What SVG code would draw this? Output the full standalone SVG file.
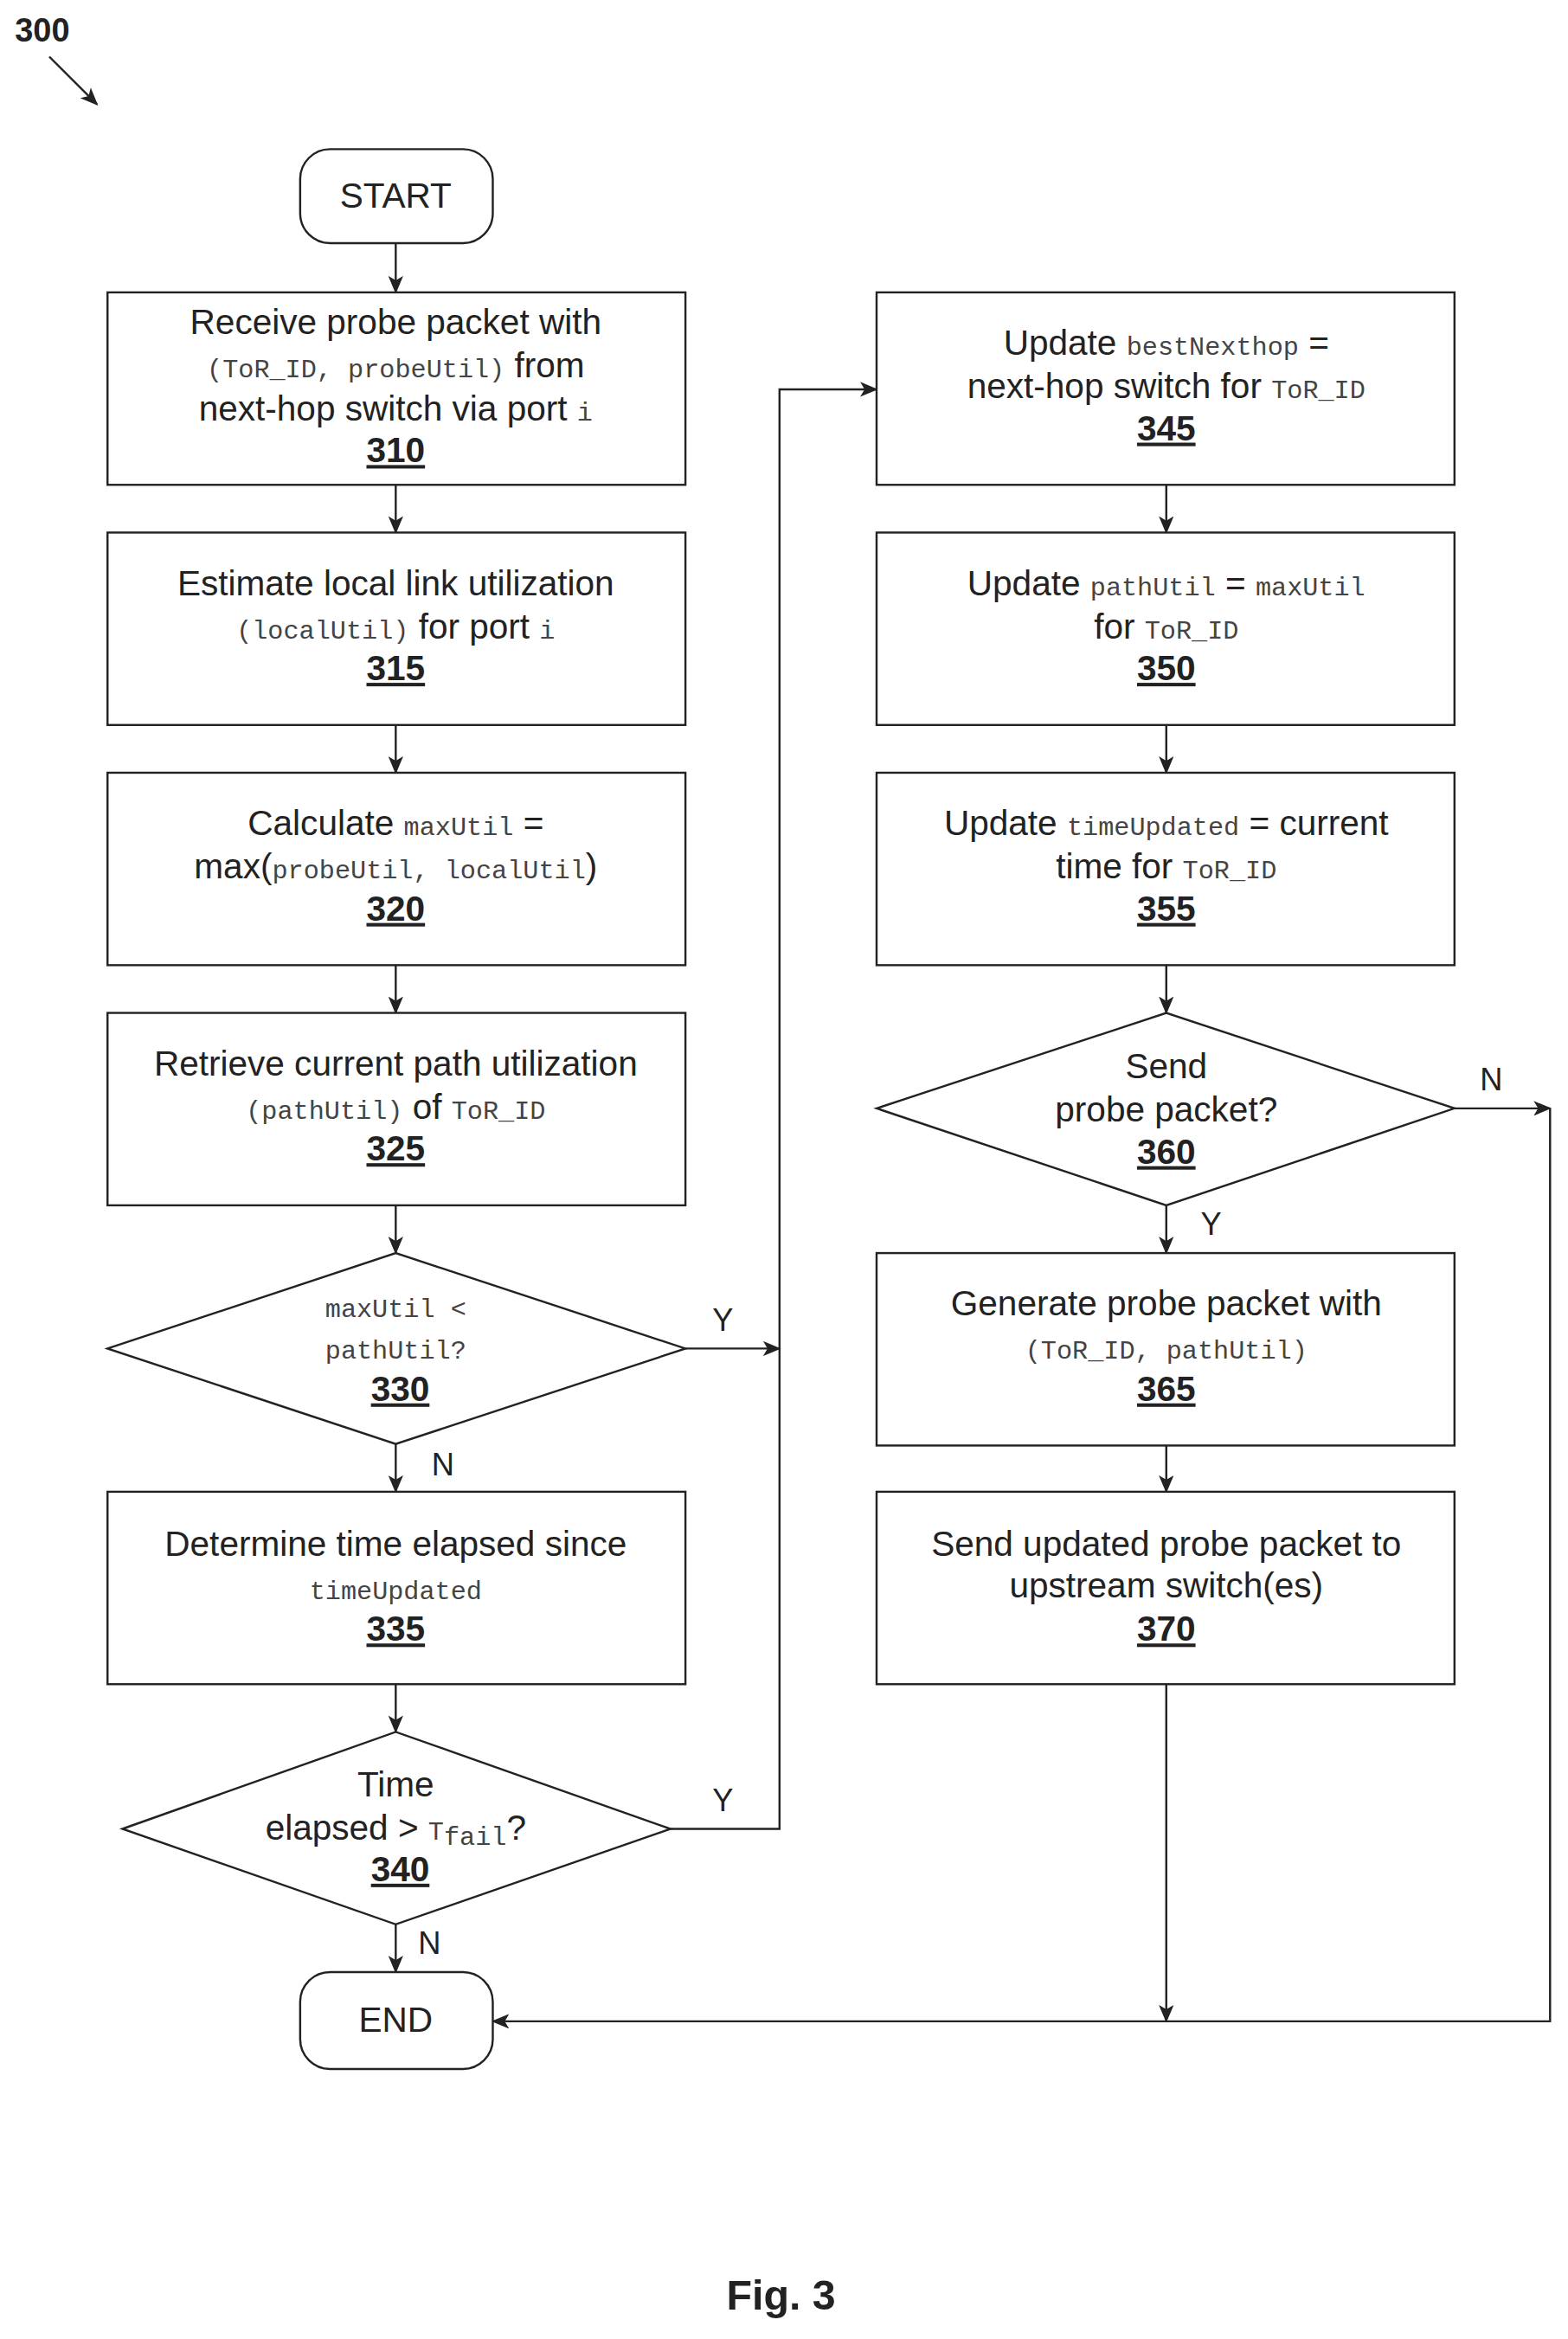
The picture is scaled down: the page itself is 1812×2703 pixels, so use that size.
<svg xmlns="http://www.w3.org/2000/svg" width="1812" height="2703" viewBox="0 0 1812 2703">
<style>
.b{fill:#fff;stroke:#222;stroke-width:1.4}
.t{font-family:"Liberation Sans",Arial,sans-serif;font-size:23.5px;fill:#222;text-anchor:middle}
.m{font-family:"Liberation Mono","Courier New",monospace;font-size:17.5px;fill:#444}
.n{font-weight:bold;text-decoration:underline}
.c{fill:none;stroke:#222;stroke-width:1.4}
.l{font-family:"Liberation Sans",Arial,sans-serif;font-size:21px;fill:#222}
</style>
<defs><marker id="a" markerWidth="12" markerHeight="10" refX="11" refY="5" orient="auto" markerUnits="userSpaceOnUse"><path d="M0,0L12,5L0,10L3,5z" fill="#222"/></marker></defs>
<rect width="1812" height="2703" fill="#fff"/>
<g transform="scale(1.7257,1.7239)">
<text x="10" y="28" font-family="Liberation Sans,Arial,sans-serif" font-weight="bold" font-size="22" fill="#222">300</text>
<line x1="33" y1="38" x2="65" y2="70" class="c" marker-end="url(#a)"/>
<g id="connectors">
<line x1="265" y1="163" x2="265" y2="196" class="c" marker-end="url(#a)"/>
<line x1="265" y1="325" x2="265" y2="357" class="c" marker-end="url(#a)"/>
<line x1="265" y1="486" x2="265" y2="518" class="c" marker-end="url(#a)"/>
<line x1="265" y1="647" x2="265" y2="679" class="c" marker-end="url(#a)"/>
<line x1="265" y1="808" x2="265" y2="840" class="c" marker-end="url(#a)"/>
<line x1="265" y1="968" x2="265" y2="1000" class="c" marker-end="url(#a)"/>
<line x1="265" y1="1129" x2="265" y2="1161" class="c" marker-end="url(#a)"/>
<line x1="265" y1="1290" x2="265" y2="1322" class="c" marker-end="url(#a)"/>
<line x1="459" y1="904" x2="522" y2="904" class="c" marker-end="url(#a)"/>
<polyline points="449,1226 522,1226 522,261 587,261" class="c" marker-end="url(#a)"/>
<line x1="781" y1="325" x2="781" y2="357" class="c" marker-end="url(#a)"/>
<line x1="781" y1="486" x2="781" y2="518" class="c" marker-end="url(#a)"/>
<line x1="781" y1="647" x2="781" y2="679" class="c" marker-end="url(#a)"/>
<line x1="781" y1="808" x2="781" y2="840" class="c" marker-end="url(#a)"/>
<line x1="781" y1="969" x2="781" y2="1000" class="c" marker-end="url(#a)"/>
<line x1="781" y1="1129" x2="781" y2="1355" class="c" marker-end="url(#a)"/>
<line x1="974" y1="743" x2="1038" y2="743" class="c" marker-end="url(#a)"/>
<polyline points="1038,743 1038,1355 330,1355" class="c" marker-end="url(#a)"/>
<text x="477" y="892" class="l">Y</text>
<text x="477" y="1214" class="l">Y</text>
<text x="289" y="989" class="l">N</text>
<text x="280" y="1310" class="l">N</text>
<text x="991" y="731" class="l">N</text>
<text x="804" y="828" class="l">Y</text>
</g>
<g id="start"><rect x="201" y="100" width="129" height="63" rx="20" class="b"/><text x="265" y="139" class="t">START</text></g>
<g id="n310"><rect x="72" y="196" width="387" height="129" class="b"/>
<text class="t"><tspan x="265" y="224">Receive probe packet with</tspan><tspan x="265" y="253"><tspan class="m">(ToR_ID, probeUtil)</tspan> from</tspan><tspan x="265" y="282">next-hop switch via port <tspan class="m">i</tspan></tspan><tspan x="265" y="310" class="n">310</tspan></text></g>
<g id="n315"><rect x="72" y="357" width="387" height="129" class="b"/>
<text class="t"><tspan x="265" y="399">Estimate local link utilization</tspan><tspan x="265" y="428"><tspan class="m">(localUtil)</tspan> for port <tspan class="m">i</tspan></tspan><tspan x="265" y="456" class="n">315</tspan></text></g>
<g id="n320"><rect x="72" y="518" width="387" height="129" class="b"/>
<text class="t"><tspan x="265" y="560">Calculate <tspan class="m">maxUtil</tspan> =</tspan><tspan x="265" y="589">max(<tspan class="m">probeUtil, localUtil</tspan>)</tspan><tspan x="265" y="617" class="n">320</tspan></text></g>
<g id="n325"><rect x="72" y="679" width="387" height="129" class="b"/>
<text class="t"><tspan x="265" y="721">Retrieve current path utilization</tspan><tspan x="265" y="750"><tspan class="m">(pathUtil)</tspan> of <tspan class="m">ToR_ID</tspan></tspan><tspan x="265" y="778" class="n">325</tspan></text></g>
<g id="n330"><polygon points="72,904 265,840 459,904 265,968" class="b"/>
<text class="t"><tspan x="265" y="883" class="m">maxUtil &lt;</tspan><tspan x="265" y="911" class="m">pathUtil?</tspan><tspan x="268" y="939" class="n">330</tspan></text></g>
<g id="n335"><rect x="72" y="1000" width="387" height="129" class="b"/>
<text class="t"><tspan x="265" y="1043">Determine time elapsed since</tspan><tspan x="265" y="1072" class="m">timeUpdated</tspan><tspan x="265" y="1100" class="n">335</tspan></text></g>
<g id="n340"><polygon points="82,1226 265,1161 449,1226 265,1290" class="b"/>
<text class="t"><tspan x="265" y="1204">Time</tspan><tspan x="265" y="1233">elapsed &gt; <tspan class="m">T</tspan><tspan class="m" font-size="11" dy="4">fail</tspan><tspan dy="-4">?</tspan></tspan><tspan x="268" y="1261" class="n">340</tspan></text></g>
<g id="end"><rect x="201" y="1322" width="129" height="65" rx="20" class="b"/><text x="265" y="1362" class="t">END</text></g>
<g id="n345"><rect x="587" y="196" width="387" height="129" class="b"/>
<text class="t"><tspan x="781" y="238">Update <tspan class="m">bestNexthop</tspan> =</tspan><tspan x="781" y="267">next-hop switch for <tspan class="m">ToR_ID</tspan></tspan><tspan x="781" y="295" class="n">345</tspan></text></g>
<g id="n350"><rect x="587" y="357" width="387" height="129" class="b"/>
<text class="t"><tspan x="781" y="399">Update <tspan class="m">pathUtil</tspan> = <tspan class="m">maxUtil</tspan></tspan><tspan x="781" y="428">for <tspan class="m">ToR_ID</tspan></tspan><tspan x="781" y="456" class="n">350</tspan></text></g>
<g id="n355"><rect x="587" y="518" width="387" height="129" class="b"/>
<text class="t"><tspan x="781" y="560">Update <tspan class="m">timeUpdated</tspan> = current</tspan><tspan x="781" y="589">time for <tspan class="m">ToR_ID</tspan></tspan><tspan x="781" y="617" class="n">355</tspan></text></g>
<g id="n360"><polygon points="587,743 781,679 974,743 781,808" class="b"/>
<text class="t"><tspan x="781" y="723">Send</tspan><tspan x="781" y="752">probe packet?</tspan><tspan x="781" y="780" class="n">360</tspan></text></g>
<g id="n365"><rect x="587" y="840" width="387" height="129" class="b"/>
<text class="t"><tspan x="781" y="882">Generate probe packet with</tspan><tspan x="781" y="911" class="m">(ToR_ID, pathUtil)</tspan><tspan x="781" y="939" class="n">365</tspan></text></g>
<g id="n370"><rect x="587" y="1000" width="387" height="129" class="b"/>
<text class="t"><tspan x="781" y="1043">Send updated probe packet to</tspan><tspan x="781" y="1071">upstream switch(es)</tspan><tspan x="781" y="1100" class="n">370</tspan></text></g>
<text x="523" y="1548" text-anchor="middle" font-family="Liberation Sans,Arial,sans-serif" font-weight="bold" font-size="28" fill="#222">Fig. 3</text>
</g>
</svg>
